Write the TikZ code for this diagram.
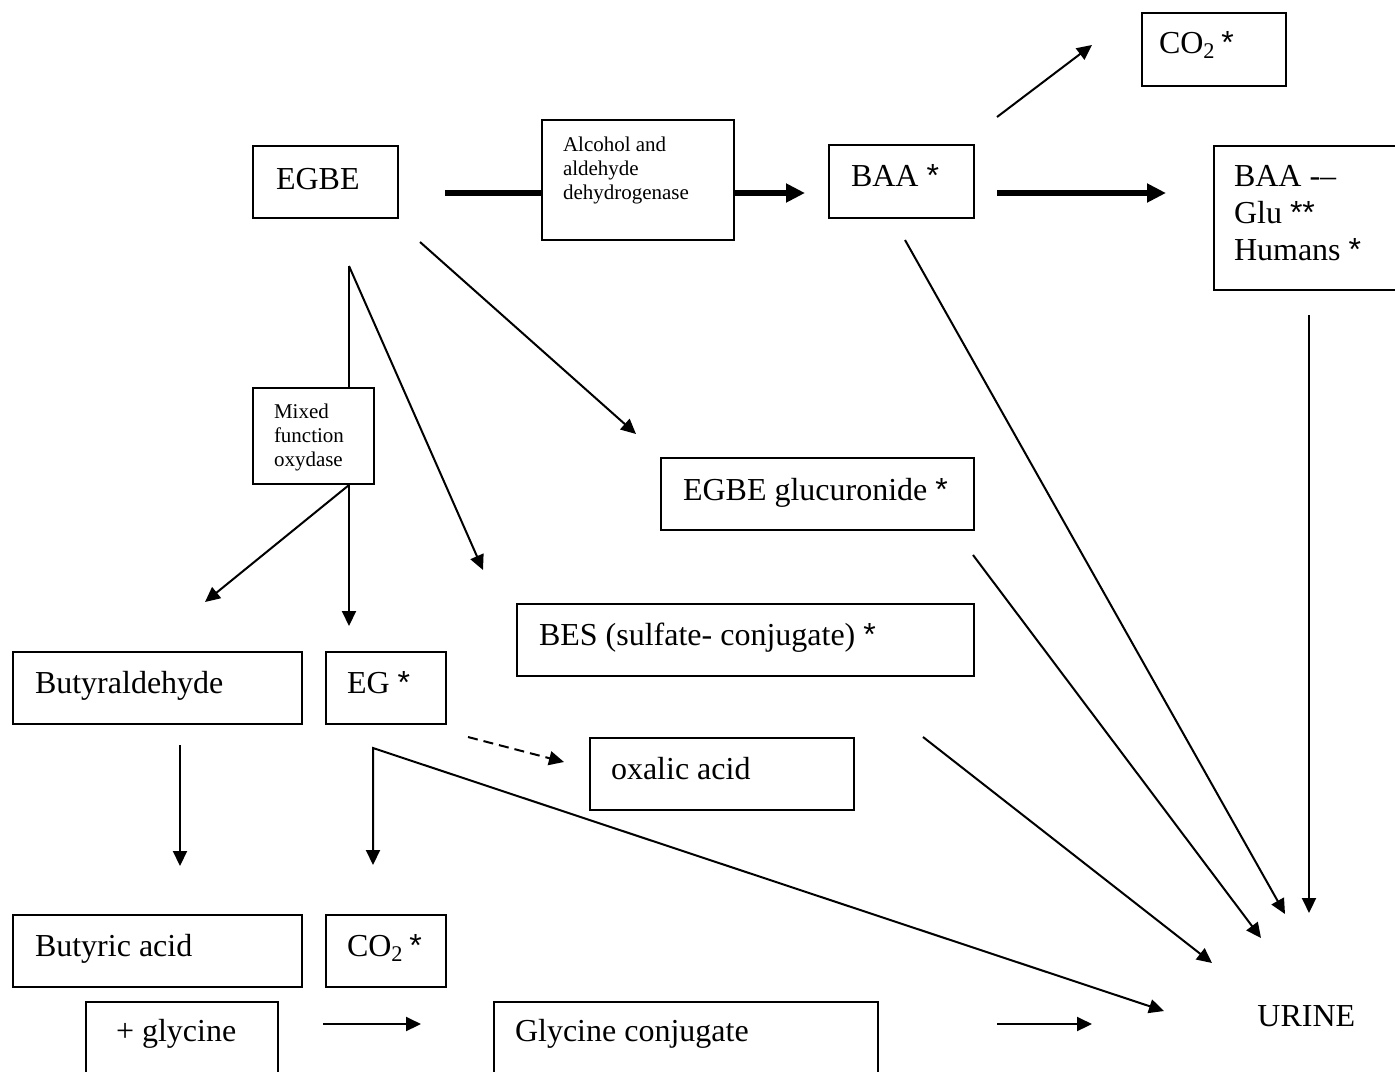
\documentclass[tikz,border=0pt]{standalone}
\usepackage{fontspec}
\setmainfont{Liberation Serif}
\newfontfamily\astfont{Liberation Sans}
\usetikzlibrary{arrows.meta,calc}
\newcommand\stx{{\astfont *}}
\newcommand\cotwo{CO\textsubscript{2}}
\begin{document}
\begin{tikzpicture}[x=0.5pt,y=-0.5pt,
  bigf/.style={font=\fontsize{16}{18.5}\selectfont},
  smallf/.style={font=\fontsize{10.5}{12}\selectfont},
  box/.style={draw, line width=1pt, anchor=north west, inner ysep=0pt,
    execute at begin node={\spaceskip=0pt\xspaceskip=0pt\relax}},
  conn/.style={line width=1pt, -{Triangle[length=7.5pt,width=7pt]}},
  plainline/.style={line width=1pt},
  heavy/.style={line width=3pt},
  heavyarr/.style={line width=3pt, -{Triangle[length=9.5pt,width=9pt]}},
  dashconn/.style={conn, dash pattern=on 5pt off 3pt},
]
\fill[white] (0,0) rectangle (1395,1071);
\useasboundingbox (0,0) rectangle (1395,1071);
\clip (0,0) rectangle (1395,1071);

% boxes
\node[box,bigf,inner xsep=11.5pt,text width=49.5pt,text height=21.5pt,text depth=14.5pt] (egbe) at (252,145) {\mbox{EGBE}};
\node[box,smallf,inner xsep=10.5pt,text width=75pt,text height=15.5pt,text depth=44.5pt] (alc) at (541,119) {\mbox{Alcohol and}\\aldehyde\\dehydrogenase};
\node[box,bigf,inner xsep=11pt,text width=50.5pt,text height=20.5pt,text depth=16pt] (baa) at (828,144) {\mbox{BAA \stx}};
\node[box,bigf,inner xsep=8.5pt,text width=55pt,text height=20pt,text depth=16.5pt] (co2t) at (1141,12) {\mbox{\cotwo\hspace{0.18em}\stx}};
\node[box,bigf,inner xsep=10pt,text width=83.5pt,text height=20pt,text depth=52pt] (glu) at (1213,145) {\mbox{BAA -–}\\\mbox{Glu \stx\stx}\\\mbox{Humans \stx}};
\node[box,smallf,inner xsep=10.5pt,text width=39.5pt,text height=15pt,text depth=33pt] (mixed) at (252,387) {Mixed\\function\\oxydase};
\node[box,bigf,inner xsep=11pt,text width=134.5pt,text height=21pt,text depth=15pt] (gluc) at (660,457) {\mbox{EGBE glucuronide \stx}};
\node[box,bigf,inner xsep=11pt,text width=206.5pt,text height=20.5pt,text depth=15.5pt] (bes) at (516,603) {\mbox{BES (sulfate- conjugate) \stx}};
\node[box,bigf,inner xsep=11pt,text width=122.5pt,text height=20.5pt,text depth=15.5pt] (butald) at (12,651) {\mbox{Butyraldehyde}};
\node[box,bigf,inner xsep=10.5pt,text width=39pt,text height=20.5pt,text depth=15.5pt] (eg) at (325,651) {\mbox{EG \stx}};
\node[box,bigf,inner xsep=10.5pt,text width=111pt,text height=20.5pt,text depth=15.5pt] (oxal) at (589,737) {\mbox{oxalic acid}};
\node[box,bigf,inner xsep=11pt,text width=122.5pt,text height=20.5pt,text depth=15.5pt] (butyr) at (12,914) {\mbox{Butyric acid}};
\node[box,bigf,inner xsep=10.5pt,text width=39pt,text height=20.5pt,text depth=15.5pt] (co2b) at (325,914) {\mbox{\cotwo\hspace{0.18em}\stx}};
\node[box,bigf,inner xsep=15pt,text width=66pt,text height=19.5pt,text depth=30pt] (glyc) at (85,1001) {\mbox{+ glycine}};
\node[box,bigf,inner xsep=10.5pt,text width=171pt,text height=19.5pt,text depth=30pt] (gconj) at (493,1001) {\mbox{Glycine conjugate}};
\node[bigf,anchor=base west,inner sep=0pt] (urine) at (1257,1026) {URINE};

% free ends of connectors
\coordinate (a1) at (445,193);
\coordinate (a2) at (805,193);
\coordinate (a3) at (997,193);
\coordinate (a4) at (1166,193);
\coordinate (c1) at (997,117);
\coordinate (c2) at (1092,45);
\coordinate (b0) at (349,266);
\coordinate (b1) at (349,626);
\coordinate (b2) at (205,602);
\coordinate (b3) at (483,570);
\coordinate (d1) at (420,242);
\coordinate (d2) at (636,434);
\coordinate (e1) at (905,240);
\coordinate (e2) at (1285,914);
\coordinate (f1) at (1309,315);
\coordinate (f2) at (1309,913);
\coordinate (g1) at (973,555);
\coordinate (g2) at (1261,938);
\coordinate (h1) at (923,737);
\coordinate (h2) at (1212,963);
\coordinate (k0) at (373,748);
\coordinate (k1) at (373,865);
\coordinate (k2) at (1164,1011);
\coordinate (q1) at (468,737);
\coordinate (q2) at (564,762);
\coordinate (m1) at (180,745);
\coordinate (m2) at (180,866);
\coordinate (n1) at (323,1024);
\coordinate (n2) at (421,1024);
\coordinate (p1) at (997,1024);
\coordinate (p2) at (1092,1024);

% connectors
\draw[heavy] (a1) -- (a1 -| alc.west);
\draw[heavyarr] (a1 -| alc.east) -- (a2);
\draw[heavyarr] (a3) -- (a4);
\draw[conn] (c1) -- (c2);
\draw[plainline] (b0) -- (b0 |- mixed.north);
\draw[conn] (b0 |- mixed.south) -- (b1);
\draw[conn] (b0 |- mixed.south) -- (b2);
\draw[conn] (b0) -- (b3);
\draw[conn] (d1) -- (d2);
\draw[conn] (e1) -- (e2);
\draw[conn] (f1) -- (f2);
\draw[conn] (g1) -- (g2);
\draw[conn] (h1) -- (h2);
\draw[line width=1pt, {Triangle[length=7.5pt,width=7pt]}-{Triangle[length=7.5pt,width=7pt]}] (k1) -- (k0) -- (k2);
\draw[dashconn] (q1) -- (q2);
\draw[conn] (m1) -- (m2);
\draw[conn] (n1) -- (n2);
\draw[conn] (p1) -- (p2);
\end{tikzpicture}
\end{document}
